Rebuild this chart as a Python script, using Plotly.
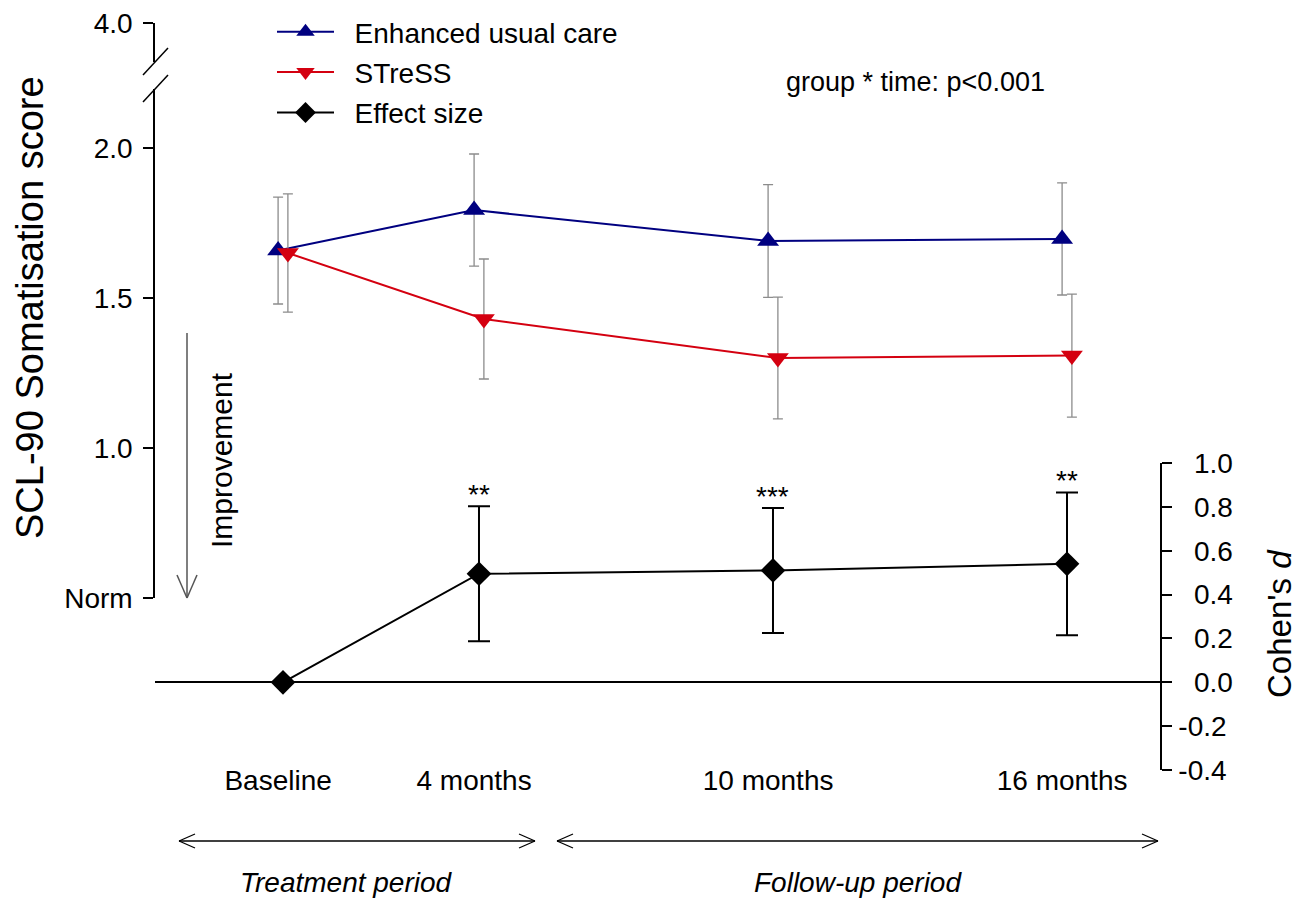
import plotly.graph_objects as go

# ---- data -------------------------------------------------------------
months = [0, 4, 10, 16]
time_labels = ["Baseline", "4 months", "10 months", "16 months"]

euc_mean = [1.658, 1.793, 1.690, 1.697]
euc_err = [0.178, 0.187, 0.188, 0.187]

stress_mean = [1.650, 1.430, 1.300, 1.308]
stress_err = [0.197, 0.200, 0.203, 0.205]

d_mean = [0.0, 0.495, 0.510, 0.540]
d_err = [None, 0.308, 0.285, 0.326]
d_sig = ["", "**", "***", "**"]

score_ticks = [0.5, 1.0, 1.5, 2.0]
score_ticktext = ["Norm", "1.0", "1.5", "2.0"]
d_ticks = [-0.4, -0.2, 0.0, 0.2, 0.4, 0.6, 0.8, 1.0]
d_ticktext = ["-0.4", "-0.2", "\u00a0\u00a00.0", "\u00a0\u00a00.2", "\u00a0\u00a00.4",
              "\u00a0\u00a00.6", "\u00a0\u00a00.8", "\u00a0\u00a01.0"]

# ---- layout geometry ----------------------------------------------------
W, H = 1307, 900
ML, MR, MT, MB = 155, 147, 23, 130
PW, PH = W - ML - MR, H - MT - MB
DODGE = 0.1          # horizontal offset between the two groups (months)
FONT = "Liberation Sans, Arial, sans-serif"
GAP = "\u00a0\u00a0"  # spacing between legend symbol and label


def px(x):
    """page x pixel -> paper x"""
    return (x - ML) / PW


def py(y):
    """page y pixel -> paper y"""
    return (H - MB - y) / PH


NAVY = "#000080"
RED = "#d40010"
GREY = "#8c8c8c"

fig = go.Figure()

fig.add_trace(go.Scatter(
    x=[m - DODGE for m in months], y=euc_mean, name=GAP + "Enhanced usual care",
    mode="lines+markers", xaxis="x", yaxis="y", legendgroup="a",
    line=dict(color=NAVY, width=2),
    marker=dict(symbol="triangle-up", size=19, color=NAVY),
    error_y=dict(type="data", array=euc_err, color=GREY, thickness=1.3, width=5),
))
fig.add_trace(go.Scatter(
    x=[m + DODGE for m in months], y=stress_mean, name=GAP + "STreSS",
    mode="lines+markers", xaxis="x", yaxis="y", legendgroup="b",
    line=dict(color=RED, width=2),
    marker=dict(symbol="triangle-down", size=19, color=RED),
    error_y=dict(type="data", array=stress_err, color=GREY, thickness=1.3, width=5),
))
fig.add_trace(go.Scatter(
    x=months, y=d_mean, name=GAP + "Effect size",
    mode="lines+markers", xaxis="x", yaxis="y2", legendgroup="c",
    line=dict(color="black", width=2),
    marker=dict(symbol="diamond", size=19, color="black"),
    error_y=dict(type="data", array=d_err, color="black", thickness=2, width=11),
))
# empty trace that carries the short upper segment of the broken axis
fig.add_trace(go.Scatter(x=[], y=[], xaxis="x", yaxis="y3", showlegend=False,
                         hoverinfo="skip"))

axis_common = dict(
    showline=True, linecolor="black", linewidth=1.5,
    ticks="outside", ticklen=10, tickwidth=1.5, tickcolor="black",
    showgrid=False, zeroline=False, automargin=False,
    tickfont=dict(family=FONT, size=28, color="black"),
)

fig.update_layout(
    width=W, height=H, autosize=False,
    margin=dict(l=ML, r=MR, t=MT, b=MB, pad=0, autoexpand=False),
    paper_bgcolor="white", plot_bgcolor="rgba(0,0,0,0)",
    font=dict(family=FONT, color="black"),
    xaxis=dict(
        domain=[0, 1], anchor="y2", range=[-2.612, 17.898],
        showline=False, showgrid=False, zeroline=False, ticks="",
        automargin=False,
        tickvals=[m - DODGE for m in months], ticktext=time_labels,
        tickfont=dict(family=FONT, size=28, color="black"),
        ticklabelstandoff=-9,
    ),
    yaxis=dict(domain=[py(598), py(89)], range=[0.5, 0.5 + (598 - 89) / 300],
               anchor="x", tickvals=score_ticks, ticktext=score_ticktext,
               ticklabelstandoff=5, **axis_common),
    yaxis3=dict(domain=[py(62), 1.0], range=[3.8, 4.0], anchor="x",
                tickvals=[4.0], ticktext=["4.0"], ticklabelstandoff=5,
                **axis_common),
    yaxis2=dict(domain=[0, py(463)], range=[-0.4, 1.0], anchor="x", side="right",
                tickvals=d_ticks, ticktext=d_ticktext, ticklabelstandoff=1,
                **{**axis_common, "zeroline": True},
                zerolinecolor="black", zerolinewidth=2),
    legend=dict(
        x=px(272), y=py(7), xanchor="left", yanchor="top",
        bgcolor="rgba(0,0,0,0)", borderwidth=0,
        font=dict(family=FONT, size=28, color="black"),
        traceorder="grouped", tracegroupgap=1, itemwidth=57,
    ),
    showlegend=True,
)

annotations = [
    dict(text="SCL-90 Somatisation score", x=px(30), y=py(308), textangle=-90,
         font=dict(size=38)),
    dict(text="Cohen's <i>d</i>", x=px(1279), y=py(624), textangle=-90,
         font=dict(size=33)),
    dict(text="Improvement", x=px(222), y=py(460), textangle=-90,
         font=dict(size=30)),
    dict(text="group * time: p<0.001", x=px(915), y=py(82), font=dict(size=27)),
    dict(text="<i>Treatment period</i>", x=px(346), y=py(882), font=dict(size=28)),
    dict(text="<i>Follow-up period</i>", x=px(858), y=py(882), font=dict(size=28)),
]
for a in annotations:
    a.update(xref="paper", yref="paper", showarrow=False,
             xanchor="center", yanchor="middle")
    a["font"].update(family=FONT, color="black")

# significance stars above the effect-size confidence intervals
for m, d, e, s in zip(months, d_mean, d_err, d_sig):
    if s:
        annotations.append(dict(
            text=s, x=m, y=d + e, xref="x", yref="y2", showarrow=False,
            xanchor="center", yanchor="bottom", yshift=-6,
            font=dict(family=FONT, size=28, color="black"),
        ))
fig.update_layout(annotations=annotations)

# decorations: axis break, improvement arrow, period arrows
shapes = []


def seg(x0, y0, x1, y1, color="black", width=1.5):
    shapes.append(dict(type="line", xref="paper", yref="paper",
                       x0=px(x0), y0=py(y0), x1=px(x1), y1=py(y1),
                       line=dict(color=color, width=width)))


# break marks on the left axis
seg(143, 75, 168, 48)
seg(143, 102, 168, 75)

# downward "Improvement" arrow
seg(187, 333, 187, 598, color="#555555", width=1.5)
seg(177, 575, 187, 598, color="#555555", width=1.5)
seg(197, 575, 187, 598, color="#555555", width=1.5)


def double_arrow(xa, xb, y):
    seg(xa, y, xb, y, width=1.3)
    for tip, sgn in ((xa, 1), (xb, -1)):
        seg(tip, y, tip + sgn * 16, y - 7, width=1.3)
        seg(tip, y, tip + sgn * 16, y + 7, width=1.3)


double_arrow(179, 535, 841)
double_arrow(557, 1158, 841)

fig.update_layout(shapes=shapes)

fig.write_html("out.html")
